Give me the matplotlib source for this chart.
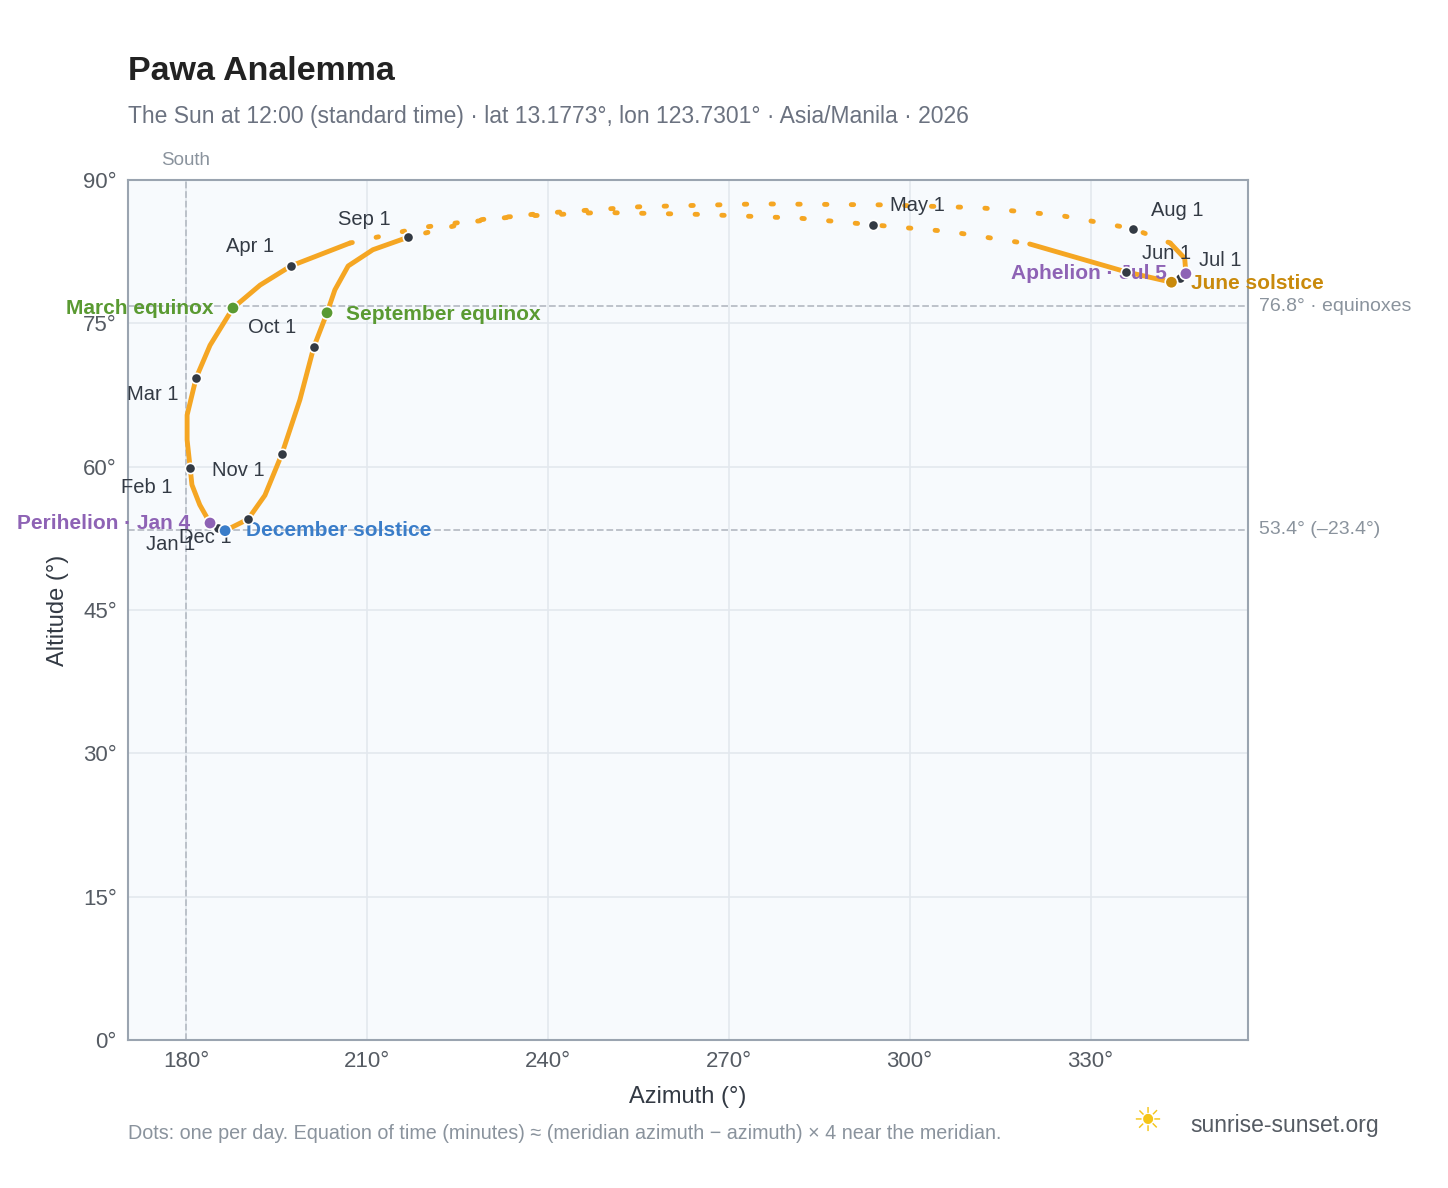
import numpy as np
import matplotlib.pyplot as plt

plt.rcParams['font.family'] = ['Liberation Sans', 'DejaVu Sans']

# path of the sun at noon (azimuth, altitude), Jan 1 -> Dec 31
path_az = [185.3, 184.0, 182.3, 181.0, 180.7, 180.2, 180.2, 181.7, 184.0, 187.8, 192.3, 197.4,
           207.2, 218.8, 232.0, 248.6, 265.2, 281.8, 294.0, 306.6, 319.9, 335.8, 343.4,
           345.1, 345.8, 345.6, 343.2, 337.0, 324.9, 311.6, 295.0, 275.1, 255.3, 238.7,
           227.1, 216.8, 211.0, 206.9, 204.7, 203.4, 201.2, 198.9, 195.9, 193.1, 190.3, 186.5, 185.3]
path_alt = [53.6, 54.1, 56.0, 58.1, 59.9, 62.8, 65.4, 69.3, 72.7, 76.6, 79.0, 81.0,
            83.4, 85.0, 86.1, 86.6, 86.4, 86.0, 85.3, 84.6, 83.3, 80.4, 79.3,
            79.9, 80.2, 81.8, 83.4, 84.9, 86.3, 87.1, 87.4, 87.5, 87.2, 86.5,
            85.6, 84.0, 82.7, 81.0, 78.5, 76.1, 72.5, 67.0, 61.3, 57.0, 54.5, 53.3, 53.6]

month_labels = ["Jan 1", "Feb 1", "Mar 1", "Apr 1", "May 1", "Jun 1", "Jul 1", "Aug 1",
                "Sep 1", "Oct 1", "Nov 1", "Dec 1"]
month_az = [185.3, 180.7, 181.7, 197.4, 294.0, 335.8, 344.9, 337.0, 216.8, 201.2, 195.9, 190.3]
month_alt = [53.6, 59.9, 69.3, 81.0, 85.3, 80.4, 79.7, 84.9, 84.0, 72.5, 61.3, 54.5]
month_off = [(-52, -12), (-50, -14), (-50, -12), (-47, 14), (12, 14), (12, 13), (13, 13),
             (13, 13), (-50, 13), (-47, 14), (-50, -12), (-50, -13)]

events = ["March equinox", "June solstice", "September equinox", "December solstice",
          "Perihelion · Jan 4", "Aphelion · Jul 5"]
event_az = [187.8, 343.4, 203.4, 186.5, 184.0, 345.8]
event_alt = [76.6, 79.3, 76.1, 53.3, 54.1, 80.2]
event_col = ["#5a9a32", "#c98a0c", "#5a9a32", "#3a7dc9", "#8e63b5", "#8e63b5"]
event_off = [(-14, 0), (14, -1), (14, -1), (15, 0), (-14, 0), (-14, 0)]
event_ha = ["right", "left", "left", "left", "right", "right"]

fig = plt.figure(figsize=(14.48, 11.88), dpi=100)
ax = fig.add_axes([0.0884, 0.1246, 0.7735, 0.7239])
ax.set_facecolor("#f7fafd")
ax.set_xlim(170.4, 356.1)
ax.set_ylim(0, 90)
ax.set_xticks([180, 210, 240, 270, 300, 330])
ax.set_xticklabels(["180°", "210°", "240°", "270°", "300°", "330°"])
ax.set_yticks([0, 15, 30, 45, 60, 75, 90])
ax.set_yticklabels(["0°", "15°", "30°", "45°", "60°", "75°", "90°"])
ax.grid(color="#e3e8ee", lw=1.2)
ax.set_axisbelow(True)
for s in ax.spines.values():
    s.set_color("#9aa4b0")
    s.set_linewidth(1.5)
ax.tick_params(colors="#555b63", labelsize=16, length=0, pad=8)

ax.axvline(180, color="#b8bec6", ls="--", lw=1.3)
ax.text(180, 91.2, "South", color="#8a939d", fontsize=13.5, ha="center", va="bottom")
for y, lab in [(76.8, "76.8° · equinoxes"), (53.4, "53.4° (–23.4°)")]:
    ax.axhline(y, color="#b8bec6", ls="--", lw=1.3)
    ax.text(358.0, y, lab, color="#8a939d", fontsize=14, va="center", clip_on=False)

az = np.array(path_az)
alt = np.array(path_alt)
solid = alt < 84.2
ax.plot(np.where(solid, az, np.nan), alt, color="#f5a623", lw=3.5, solid_capstyle="round")
ax.plot(az, np.where(~solid | np.roll(~solid, 1) | np.roll(~solid, -1), alt, np.nan),
        color="#f5a623", lw=3.5, ls=(0, (0.5, 5)), dash_capstyle="round")

ax.scatter(month_az, month_alt, s=55, color="#333a44", edgecolor="white", lw=1.2, zorder=5)
for lab, x, y, off in zip(month_labels, month_az, month_alt, month_off):
    ax.annotate(lab, (x, y), xytext=off, textcoords="offset points", fontsize=14.5,
                color="#333a44", va="center")

ax.scatter(event_az, event_alt, s=80, color=event_col, edgecolor="white", lw=1.2, zorder=6)
for lab, x, y, c, off, ha in zip(events, event_az, event_alt, event_col, event_off, event_ha):
    ax.annotate(lab, (x, y), xytext=off, textcoords="offset points", fontsize=15,
                color=c, fontweight="bold", va="center", ha=ha)

ax.set_xlabel("Azimuth (°)", fontsize=17, color="#333a44", labelpad=10)
ax.set_ylabel("Altitude (°)", fontsize=17, color="#333a44", labelpad=10)

fig.text(0.0884, 0.94, "Pawa Analemma", fontsize=24.5, fontweight="bold", color="#222222", va="center")
fig.text(0.0884, 0.902, "The Sun at 12:00 (standard time) · lat 13.1773°, lon 123.7301° · Asia/Manila · 2026",
         fontsize=16.5, color="#6b7280", va="center")
fig.text(0.0884, 0.046, "Dots: one per day. Equation of time (minutes) ≈ (meridian azimuth − azimuth) × 4 near the meridian.",
         fontsize=14.2, color="#8a939d", va="center")
fig.text(0.822, 0.053, "sunrise-sunset.org", fontsize=16.5, color="#555b63", va="center")
fig.text(0.792, 0.055, "☀", fontsize=24, color="#f5c518", ha="center", va="center",
         family=["DejaVu Sans"])

fig.savefig("out.png", dpi=100)
